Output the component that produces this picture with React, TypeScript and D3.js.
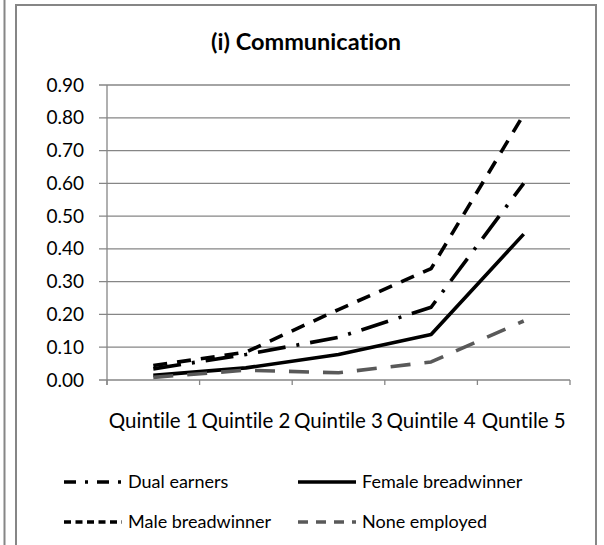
import React from 'react';
import * as d3 from 'd3';

const categories = ['Quintile 1', 'Quintile 2', 'Quintile 3', 'Quintile 4', 'Quntile 5'];
const dualEarners = [0.034, 0.078, 0.13, 0.222, 0.6];
const femaleBreadwinner = [0.014, 0.037, 0.078, 0.139, 0.445];
const maleBreadwinner = [0.044, 0.085, 0.215, 0.34, 0.81];
const noneEmployed = [0.008, 0.03, 0.022, 0.055, 0.18];
const yTicks = [0, 0.1, 0.2, 0.3, 0.4, 0.5, 0.6, 0.7, 0.8, 0.9];

const width = 604;
const height = 545;
const font = 'Lato, Calibri, sans-serif';
const grey = '#868686';

const series = [
    { name: 'Dual earners', values: dualEarners, color: '#000', dash: '28,11,3,11', legendDash: '12,9,3,9' },
    { name: 'Female breadwinner', values: femaleBreadwinner, color: '#000', dash: null, legendDash: null },
    { name: 'Male breadwinner', values: maleBreadwinner, color: '#000', dash: '14,10', legendDash: '7,4.5' },
    { name: 'None employed', values: noneEmployed, color: '#595959', dash: '20,14', legendDash: '10,8' },
];

export default function App() {
    const x = d3.scaleBand().domain(categories).range([107, 570]);
    const y = d3.scaleLinear().domain([0, 0.9]).range([380, 85]);

    const line = d3.line<number>()
        .x((d, i) => x(categories[i])! + x.bandwidth() / 2)
        .y((d) => y(d));

    const bounds = categories.map((c) => x(c)!).concat([x.range()[1]]);

    // legend: 2 columns x 2 rows
    const colX = [64, 298];
    const rowY = [482, 522];

    return (
        <svg width={width} height={height} style={{ position: 'absolute', left: 0, top: 0, fontVariantLigatures: 'none' }}>
            <rect x={0} y={0} width={width} height={height} fill="#fff" />
            <line x1={4.5} x2={4.5} y1={0} y2={height} stroke={grey} strokeWidth={2} />
            <path d={`M16,${height} V5 H596 V${height}`} fill="none" stroke={grey} strokeWidth={2} />

            <text x={306} y={50} textAnchor="middle" fontFamily={font} fontWeight="bold" fontSize={23.5}>
                (i) Communication
            </text>

            {yTicks.map((t) => (
                <g key={t}>
                    <line x1={99} x2={570} y1={y(t)} y2={y(t)} stroke={grey} strokeWidth={1.3} />
                    <text x={84} y={y(t) + 6.5} textAnchor="end" fontFamily={font} fontSize={19}>
                        {t.toFixed(2)}
                    </text>
                </g>
            ))}
            <line x1={107} x2={107} y1={85} y2={385} stroke={grey} strokeWidth={1.3} />
            {bounds.map((b, i) => (
                <line key={i} x1={b} x2={b} y1={380} y2={385} stroke={grey} strokeWidth={1.3} />
            ))}
            {categories.map((c) => (
                <text key={c} x={x(c)! + x.bandwidth() / 2} y={428} textAnchor="middle" fontFamily={font} fontSize={20.5}>
                    {c}
                </text>
            ))}

            {series.map((s) => (
                <path key={s.name} d={line(s.values)!} fill="none" stroke={s.color} strokeWidth={3.6}
                    strokeDasharray={s.dash ?? undefined} strokeLinejoin="round" />
            ))}

            {series.map((s, i) => {
                const lx = colX[i % 2];
                const ly = rowY[Math.floor(i / 2)];
                return (
                    <g key={s.name}>
                        <line x1={lx} x2={lx + 58} y1={ly} y2={ly} stroke={s.color} strokeWidth={3.6}
                            strokeDasharray={s.legendDash ?? undefined} />
                        <text x={lx + 64} y={ly + 6} fontFamily={font} fontSize={18}>{s.name}</text>
                    </g>
                );
            })}
        </svg>
    );
}
